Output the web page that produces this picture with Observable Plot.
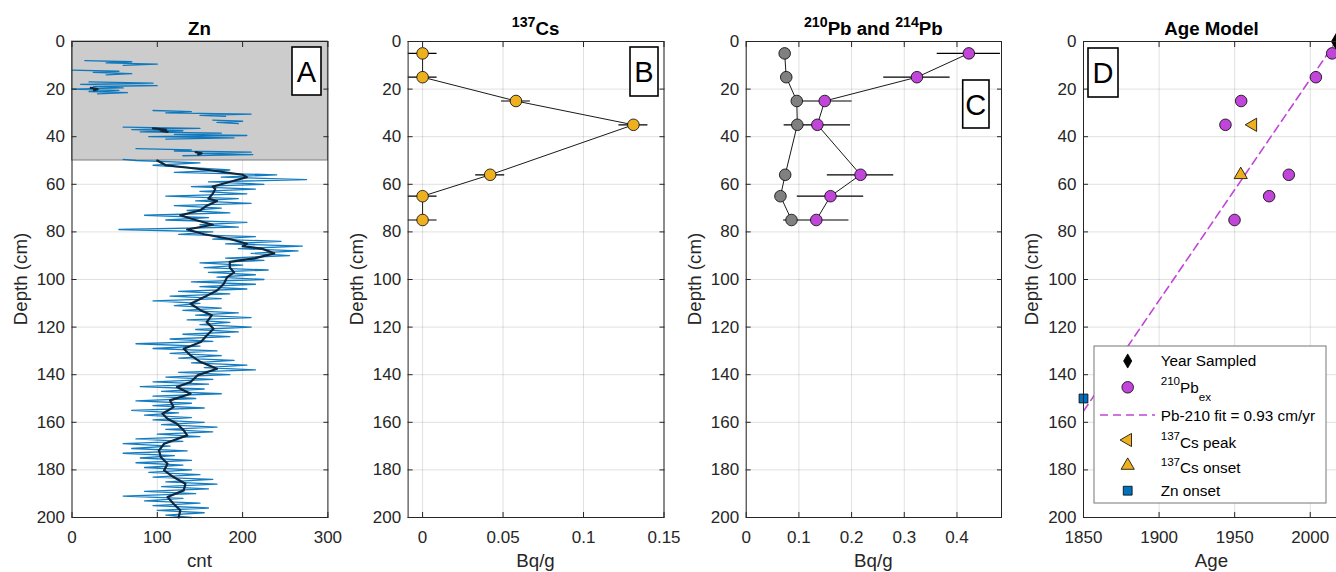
<!DOCTYPE html>
<html><head><meta charset="utf-8">
<script src="https://cdn.jsdelivr.net/npm/d3@7"></script>
<script src="https://cdn.jsdelivr.net/npm/@observablehq/plot@0.6"></script>
<style>
html,body{margin:0;padding:0;background:#fff;overflow:hidden;}
#wrap{position:relative;width:1400px;height:572px;}
#wrap svg{position:absolute;top:0;}
</style></head><body><div id="wrap"></div>
<script>
// ---------------- DATA ----------------
const depthTicks = [0, 20, 40, 60, 80, 100, 120, 140, 160, 180, 200];
const znTicks = [0, 100, 200, 300];
const csTicks = [0, 0.05, 0.1, 0.15];
const pbTicks = [0, 0.1, 0.2, 0.3, 0.4];
const ageTicks = [1850, 1900, 1950, 2000];

// Zn panel: masked (grey) depth interval
const maskDepth = [0, 50];
// Zn raw counts in the masked interval (NaN = gap)
const znTopDepth = [8, 8.5, 9, 9.5, 10, 10.5, 12, 12.5, 13, 13.5, 14, 14.5,
  17, 17.5, 18, 18.5, 19, 19.5, 20, 20.5, 21, 21.5, 22, 22.5,
  29, 29.5, 30, 30.5, 31, 31.5, 32, 33, 33.5, 34, 34.5, 35,
  36, 36.5, 37, 37.5, 38, 38.5, 39, 39.5, 40, 40.5, 41, 41.5,
  45, 45.5, 46, 46.5, 47, 47.5, 48, 48.5, 49.5];
const znTopCnt = [15, 70, 40, 100, 60, NaN, 0, 55, 25, 70, 40, NaN,
  20, 95, 10, 100, 25, 60, 0, 55, 20, 65, 30, NaN,
  95, 140, 110, 210, 150, 180, NaN, 165, 200, 170, 195, NaN,
  60, 150, 70, 130, 80, 175, 120, 205, 90, 190, 110, NaN,
  75, 140, 120, 210, 150, 212, 130, NaN, 60];
// Zn raw counts, 1-cm samples from 50 to 200 cm
const znMainCnt = [75, 150, 95, 140, 185, 120, 240, 175, 275, 160,
  225, 140, 215, 150, 205, 110, 195, 145, 210, 120,
  175, 135, 185, 85, 160, 110, 205, 150, 195, 55,
  165, 125, 215, 165, 245, 180, 270, 195, 265, 210,
  255, 180, 225, 150, 200, 155, 230, 160, 215, 170,
  225, 140, 215, 150, 205, 125, 185, 115, 175, 95,
  150, 120, 175, 130, 195, 145, 210, 135, 185, 150,
  210, 145, 195, 130, 185, 115, 165, 75, 150, 95,
  170, 115, 175, 125, 190, 140, 205, 155, 215, 125,
  185, 110, 165, 95, 160, 80, 155, 105, 175, 95,
  145, 75, 140, 95, 155, 70, 125, 85, 140, 95,
  155, 105, 170, 110, 165, 100, 150, 75, 130, 60,
  115, 70, 135, 60, 120, 80, 140, 75, 130, 85,
  140, 90, 150, 95, 165, 110, 170, 105, 160, 85,
  145, 60, 130, 85, 150, 95, 160, 100, 155, 110, 140];
// Zn smoothed curve
const znSmoothDepth = [19.5, 20, 20.5, 21, 36.5, 37, 37.5, 38, 38.5, 46.5, 47, 47.5, 48,
  50, 52, 54, 56, 57, 58, 60, 61, 62, 64, 66, 67, 69, 71, 73, 75, 77, 79, 81, 83, 85, 86, 87, 89, 91, 92.6, 95, 97, 99,
  101.8, 104.6, 107.4, 110.2, 113, 115, 117.9, 120.7, 123.5, 126.3, 129.1, 131.9, 134.7, 137.5, 140.3, 143.1, 145.2,
  148, 150.8, 153.6, 156.4, 158.5, 160.6, 163.4, 165.5, 169, 171.8, 174.6, 177.4, 180.2, 183, 185.8, 188.6,
  191.4, 194.2, 197, 200];
const znSmoothCnt = [22, 30, 26, NaN, 95, 110, 104, 112, NaN, 145, 152, 148, NaN,
  100, 110, 160, 200, 205, 195, 175, 165, 168, 165, 160, 170, 158, 150, 127, 145, 165, 135, 155, 185, 205, 200, 222, 237, 215, 185, 185, 190, 182,
  178, 170, 155, 139, 151, 164, 158, 166, 158, 151, 131, 139, 151, 170, 147, 139, 123,
  139, 115, 119, 106, 112, 123, 131, 135, 108, 102, 104, 112, 108, 119, 133, 131,
  112, 119, 127, 125];

// Sample depths (cm)
const sampleDepth = [5, 15, 25, 35, 56, 65, 75];
const cs137 = [0, 0, 0.058, 0.131, 0.042, 0, 0];
const cs137Err = [0.009, 0.009, 0.009, 0.009, 0.009, 0.009, 0.009];
const pb214 = [0.073, 0.076, 0.096, 0.097, 0.074, 0.065, 0.086];
const pb210 = [0.4225, 0.324, 0.149, 0.135, 0.217, 0.160, 0.133];
const pb210Err = [0.060, 0.063, 0.052, 0.063, 0.063, 0.063, 0.062];

// Age model
const yearSampled = [2017], yearSampledDepth = [0];
const pb210Age = [2014.5, 2003.7, 1954.3, 1943.9, 1985.8, 1972.8, 1949.9];
const csPeakYear = [1962], csPeakDepth = [35];
const csOnsetYear = [1954], csOnsetDepth = [56];
const znOnsetYear = [1850], znOnsetDepth = [150];
const fitYear = [1850, 2017], fitDepth = [155.3, 0];

// ---------------- BUILD ----------------
const FONT = "'Liberation Sans', Arial, Helvetica, sans-serif";
const BLUE = "#0072BD", YEL = "#EDB120", MAG = "#C045D8";
const wrap = document.getElementById("wrap");

const znRaw = [
  ...znTopDepth.map((d, i) => ({depth: d, cnt: znTopCnt[i]})),
  ...znMainCnt.map((c, i) => ({depth: 50 + i, cnt: c}))
];
const znSmooth = znSmoothDepth.map((d, i) => ({depth: d, cnt: znSmoothCnt[i]}));
const samples = sampleDepth.map((d, i) => ({
  depth: d, cs: cs137[i], csErr: cs137Err[i], pb214: pb214[i], pb210: pb210[i], pbErr: pb210Err[i], age: pb210Age[i]
}));
const fit = fitYear.map((y, i) => ({year: y, depth: fitDepth[i]}));

function makePanel(cfg) {
  const svg = Plot.plot({
    width: cfg.width, height: 572,
    marginLeft: cfg.mL, marginRight: cfg.mR, marginTop: 41, marginBottom: 55,
    style: {fontFamily: FONT, fontSize: "17px", color: "#262626", background: "transparent", maxWidth: "none", overflow: "visible"},
    x: {domain: cfg.xDomain},
    y: {domain: [0, 200], reverse: true},
    marks: [
      Plot.gridX({ticks: cfg.xTicks, stroke: "#000", strokeOpacity: 0.12}),
      Plot.gridY({ticks: depthTicks, stroke: "#000", strokeOpacity: 0.12}),
      ...cfg.marks,
      Plot.frame({stroke: "#262626", strokeWidth: 1}),
      Plot.axisX({ticks: cfg.xTicks, anchor: "bottom", tickSize: -5, tickPadding: 18.7, tickFormat: cfg.fmt, label: null, stroke: "#262626"}),
      Plot.axisX({ticks: cfg.xTicks, anchor: "top", tickSize: -5, tickFormat: () => "", label: null, stroke: "#262626"}),
      Plot.axisY({ticks: depthTicks, anchor: "left", tickSize: -5, tickPadding: 12, tickFormat: d3.format("d"), label: null, stroke: "#262626"}),
      Plot.axisY({ticks: depthTicks, anchor: "right", tickSize: -5, tickFormat: () => "", label: null, stroke: "#262626"})
    ]
  });
  svg.style.left = cfg.left + "px";
  wrap.appendChild(svg);
  const g = d3.select(svg).append("g").attr("font-family", FONT);
  const cx = cfg.mL + (cfg.width - cfg.mL - cfg.mR) / 2;
  richText(g, cx, 35, cfg.title, 18.7, "bold", "#000", "middle", -0.45);
  g.append("text").attr("x", cx).attr("y", 567).attr("text-anchor", "middle")
    .attr("font-size", 18.7).attr("fill", "#262626").text(cfg.xLabel);
  g.append("text").attr("transform", `translate(${cfg.mL - 45},279) rotate(-90)`)
    .attr("text-anchor", "middle").attr("font-size", 18.7).attr("fill", "#262626").text("Depth (cm)");
  const b = cfg.box;
  g.append("rect").attr("x", b[0]).attr("y", b[1]).attr("width", b[2]).attr("height", b[3])
    .attr("fill", "#fff").attr("stroke", "#000").attr("stroke-width", 1.6);
  g.append("text").attr("x", b[0] + b[2] / 2).attr("y", b[1] + b[3] / 2 + 10.5).attr("text-anchor", "middle")
    .attr("font-size", 29).attr("fill", "#000").text(b[4]);
  return g;
}

function richText(g, x, y, parts, size, weight, fill, anchor, supShift, subShift = 0.5) {
  const t = g.append("text").attr("x", x).attr("y", y).attr("text-anchor", anchor)
    .attr("font-size", size).attr("font-weight", weight).attr("fill", fill);
  let shift = 0;
  for (const p of parts) {
    const target = p.sup ? supShift * size : p.sub ? subShift * size : 0;
    t.append("tspan").attr("dy", target - shift).attr("font-size", (p.sup || p.sub) ? size * 0.76 : size).text(p.t);
    shift = target;
  }
  return t;
}

// Panel A: Zn
makePanel({
  left: 0, width: 340, mL: 71.5, mR: 12.6, xDomain: [0, 300], xTicks: znTicks, fmt: d3.format("d"),
  title: [{t: "Zn"}], xLabel: "cnt", box: [292, 47, 29, 48, "A"],
  marks: [
    Plot.rect([maskDepth], {x1: 0, x2: 300, y1: d => d[0], y2: d => d[1], fill: "#cccccc", stroke: "#7f7f7f", strokeWidth: 1}),
    Plot.line(znRaw, {x: "cnt", y: "depth", stroke: BLUE, strokeWidth: 1.3, strokeOpacity: 0.92}),
    Plot.line(znSmooth, {x: "cnt", y: "depth", stroke: "#10263a", strokeWidth: 2.2})
  ]
});

// Panel B: 137Cs
makePanel({
  left: 340, width: 335, mL: 67.6, mR: 11.5, xDomain: [-0.009, 0.15], xTicks: csTicks, fmt: d3.format("~g"),
  title: [{t: "137", sup: true}, {t: "Cs"}], xLabel: "Bq/g", box: [290, 47, 28, 49, "B"],
  marks: [
    Plot.ruleY(samples, {y: "depth", x1: d => d.cs - d.csErr, x2: d => d.cs + d.csErr, stroke: "#000", strokeWidth: 1.2, clip: true}),
    Plot.line(samples, {x: "cs", y: "depth", stroke: "#1a1a1a", strokeWidth: 1}),
    Plot.dot(samples, {x: "cs", y: "depth", r: 5.8, fill: YEL, stroke: "#000", strokeWidth: 0.8})
  ]
});

// Panel C: 210Pb and 214Pb
makePanel({
  left: 675, width: 335, mL: 70.7, mR: 9, xDomain: [0, 0.4845], xTicks: pbTicks, fmt: d3.format("~g"),
  title: [{t: "210", sup: true}, {t: "Pb and "}, {t: "214", sup: true}, {t: "Pb"}], xLabel: "Bq/g", box: [287.7, 80, 26.3, 48, "C"],
  marks: [
    Plot.ruleY(samples, {y: "depth", x1: d => d.pb210 - d.pbErr, x2: d => d.pb210 + d.pbErr, stroke: "#000", strokeWidth: 1.2, clip: true}),
    Plot.line(samples, {x: "pb214", y: "depth", stroke: "#1a1a1a", strokeWidth: 1}),
    Plot.line(samples, {x: "pb210", y: "depth", stroke: "#1a1a1a", strokeWidth: 1}),
    Plot.dot(samples, {x: "pb214", y: "depth", r: 5.8, fill: "#808080", stroke: "#000", strokeWidth: 0.8}),
    Plot.dot(samples, {x: "pb210", y: "depth", r: 5.8, fill: MAG, stroke: "#000", strokeWidth: 0.8})
  ]
});

// Panel D: Age model
const gD = makePanel({
  left: 1010, width: 340, mL: 73, mR: 10, xDomain: [1850, 2020], xTicks: ageTicks, fmt: d3.format("d"),
  title: [{t: "Age Model"}], xLabel: "Age", box: [78, 48, 30, 49, "D"],
  marks: [
    Plot.line(fit, {x: "year", y: "depth", stroke: MAG, strokeWidth: 1.6, strokeDasharray: "8,5", clip: true}),
    Plot.dot(yearSampled, {x: d => d, y: (d, i) => yearSampledDepth[i], symbol: "diamond", r: 4.3, fill: "#000", stroke: "#000"}),
    Plot.dot(samples, {x: "age", y: "depth", r: 5.8, fill: MAG, stroke: "#000", strokeWidth: 0.8}),
    Plot.dot(csPeakYear, {x: d => d, y: (d, i) => csPeakDepth[i], symbol: "triangle", rotate: -90, r: 4.9, fill: YEL, stroke: "#000", strokeWidth: 0.8}),
    Plot.dot(csOnsetYear, {x: d => d, y: (d, i) => csOnsetDepth[i], symbol: "triangle", r: 4.9, fill: YEL, stroke: "#000", strokeWidth: 0.8}),
    Plot.dot(znOnsetYear, {x: d => d, y: (d, i) => znOnsetDepth[i], symbol: "square", r: 5.0, fill: BLUE, stroke: "#000", strokeWidth: 0.8})
  ]
});

// Legend for panel D
(function legend(g) {
  const lg = g.append("g");
  lg.append("rect").attr("x", 84).attr("y", 346).attr("width", 232).attr("height", 157)
    .attr("fill", "#fff").attr("stroke", "#777").attr("stroke-width", 1);
  const sx = 117.7, tx = 150.7, fs = 15.3;
  const sym = (type, size, y, fill, rot = 0) => lg.append("path")
    .attr("d", d3.symbol(type, size)()).attr("transform", `translate(${sx},${y}) rotate(${rot})`)
    .attr("fill", fill).attr("stroke", "#000").attr("stroke-width", 0.8);
  sym(d3.symbolDiamond, Math.PI * 4.3 * 4.3, 361, "#000");
  sym(d3.symbolCircle, Math.PI * 5.8 * 5.8, 387.3, MAG);
  lg.append("line").attr("x1", 90).attr("x2", 145).attr("y1", 415).attr("y2", 415)
    .attr("stroke", MAG).attr("stroke-width", 1.6).attr("stroke-dasharray", "8,5");
  sym(d3.symbolTriangle, Math.PI * 4.9 * 4.9, 440, YEL, -90);
  sym(d3.symbolTriangle, Math.PI * 4.9 * 4.9, 465.5, YEL);
  sym(d3.symbolSquare, Math.PI * 5 * 5, 490.7, BLUE);
  richText(lg, tx, 366, [{t: "Year Sampled"}], fs, "normal", "#000", "start", -0.5);
  richText(lg, tx, 393, [{t: "210", sup: true}, {t: "Pb"}, {t: "ex", sub: true}], fs, "normal", "#000", "start", -0.5, 0.5);
  richText(lg, tx, 420.5, [{t: "Pb-210 fit = 0.93 cm/yr"}], fs, "normal", "#000", "start", -0.5);
  richText(lg, tx, 448, [{t: "137", sup: true}, {t: "Cs peak"}], fs, "normal", "#000", "start", -0.5);
  richText(lg, tx, 473.3, [{t: "137", sup: true}, {t: "Cs onset"}], fs, "normal", "#000", "start", -0.5);
  richText(lg, tx, 496, [{t: "Zn onset"}], fs, "normal", "#000", "start", -0.5);
})(gD);
</script>
</body></html>
